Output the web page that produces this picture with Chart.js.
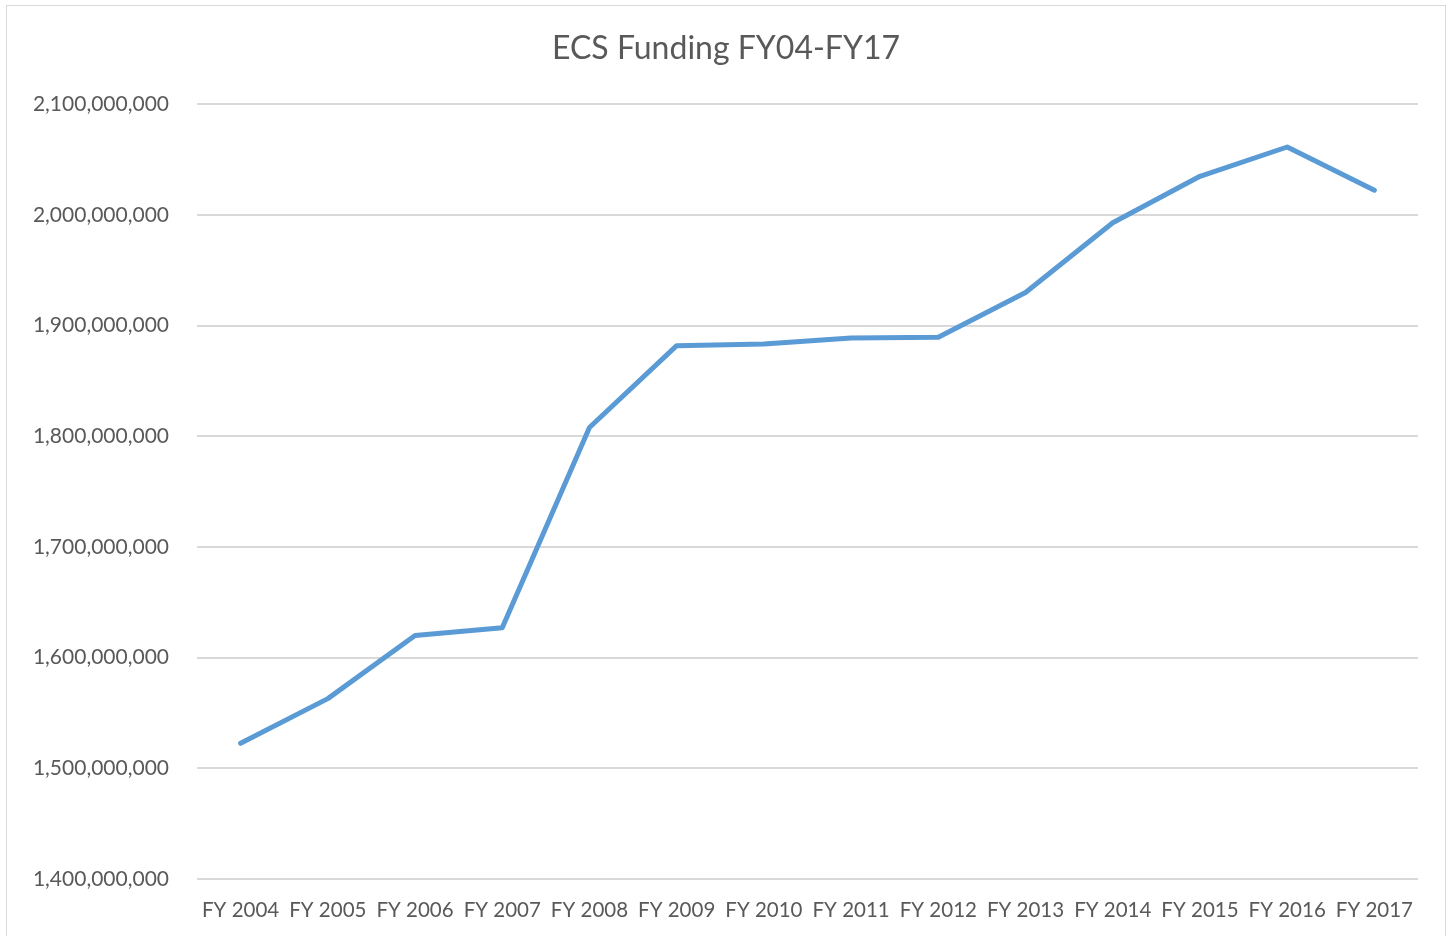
<!DOCTYPE html>
<html>
<head>
<meta charset="utf-8">
<script src="https://cdn.jsdelivr.net/npm/chart.js@4"></script>
<style>
  html, body { margin: 0; padding: 0; background: #fff; }
  #wrap { position: relative; width: 1452px; height: 936px; overflow: hidden; }
  #frame { position: absolute; left: 6px; top: 5px; width: 1440px; height: 960px; border: 1px solid #d9d9d9; box-sizing: border-box; }
  canvas { position: absolute; left: 0; top: 0; }
</style>
</head>
<body>
<div id="wrap">
  <div id="frame"></div>
  <canvas id="chart" width="1452" height="936"></canvas>
</div>
<script>
// categories and values
const years = ['FY 2004', 'FY 2005', 'FY 2006', 'FY 2007', 'FY 2008', 'FY 2009', 'FY 2010',
               'FY 2011', 'FY 2012', 'FY 2013', 'FY 2014', 'FY 2015', 'FY 2016', 'FY 2017'];
const funding = [1522600000, 1563000000, 1620000000, 1627000000, 1808000000, 1882000000, 1883500000,
                 1889000000, 1889500000, 1930000000, 1993000000, 2035000000, 2061500000, 2022500000];
const yMin = 1400000000;
const yMax = 2100000000;
const yStep = 100000000;

const fontFamily = 'Lato, "Open Sans", sans-serif';
const textColor = '#595959';
const gridColor = '#d9d9d9';

new Chart(document.getElementById('chart'), {
    type: 'line',
    data: {
        labels: years,
        datasets: [{
            label: 'ECS Funding',
            data: funding,
            borderColor: '#5b9bd5',
            borderWidth: 5,
            borderCapStyle: 'round',
            borderJoinStyle: 'round',
            pointRadius: 0,
            tension: 0,
            fill: false
        }]
    },
    options: {
        responsive: false,
        animation: false,
        // equal side padding keeps the title centred on the page
        layout: { padding: { left: 34, right: 34, top: 0, bottom: 0 } },
        plugins: {
            legend: { display: false },
            tooltip: { enabled: false },
            title: {
                display: true,
                text: 'ECS Funding FY04-FY17',
                color: textColor,
                font: { family: fontFamily, size: 32, weight: 'normal' },
                padding: { top: 29, bottom: 37 }
            }
        },
        scales: {
            x: {
                offset: true,
                grid: { display: false, drawTicks: false },
                border: { display: false },
                ticks: {
                    color: textColor,
                    font: { family: fontFamily, size: 20.5 },
                    padding: 19,
                    maxRotation: 0,
                    autoSkip: false
                },
                afterFit: function(scale) { scale.height = 57; }
            },
            y: {
                min: yMin,
                max: yMax,
                grid: { color: gridColor, lineWidth: 2, drawTicks: false },
                border: { display: false },
                ticks: {
                    stepSize: yStep,
                    color: textColor,
                    font: { family: fontFamily, size: 21 },
                    padding: 28,
                    callback: function(v) { return v.toLocaleString('en-US'); }
                },
                afterFit: function(scale) { scale.width = 163; }
            }
        }
    }
});
</script>
</body>
</html>
